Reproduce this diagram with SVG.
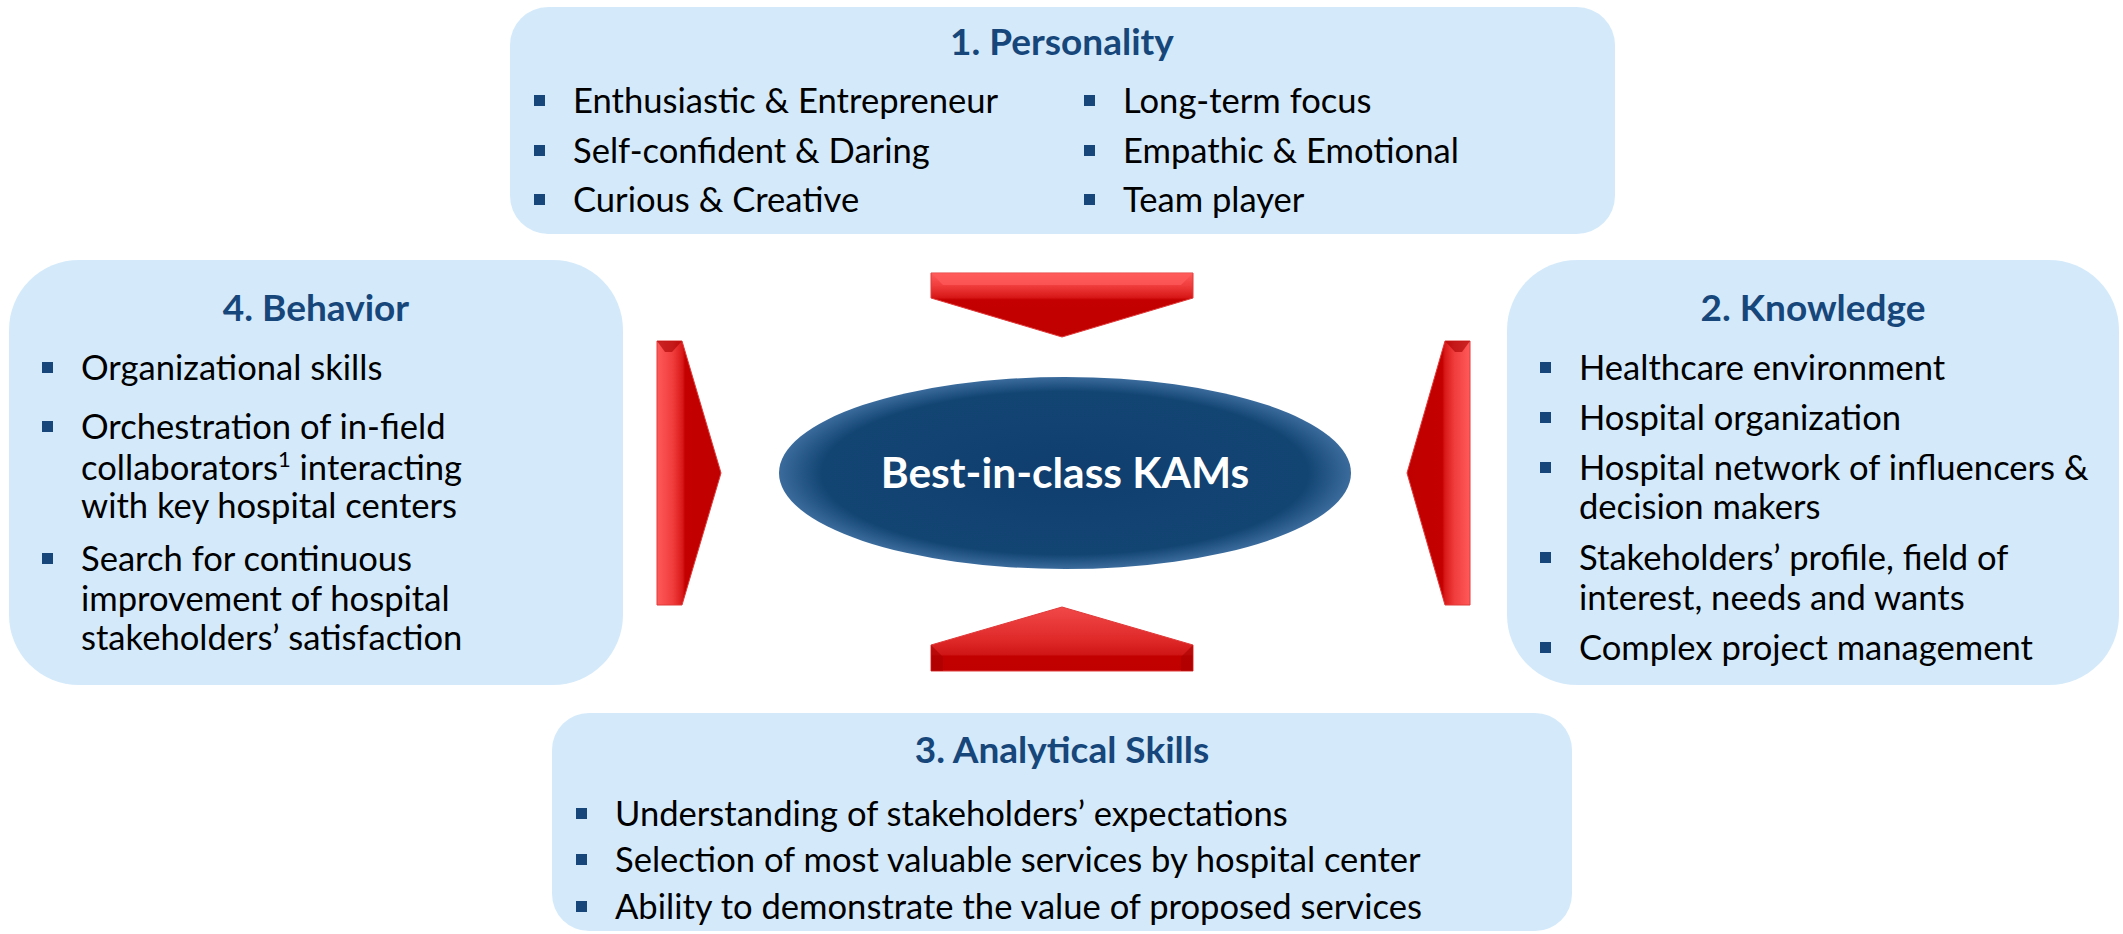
<svg xmlns="http://www.w3.org/2000/svg" width="2123" height="934" viewBox="0 0 2123 934">
<defs>
<style>
.box{fill:#D4EAFB;}
.title{font-family:Lato,"Liberation Sans",sans-serif;font-weight:bold;font-size:37px;fill:#17477A;text-anchor:middle;}
.item{font-family:Lato,"Liberation Sans",sans-serif;font-size:34.6px;fill:#000;}
.bul{fill:#17477A;}
.center{font-family:Lato,"Liberation Sans",sans-serif;font-weight:bold;font-size:42.5px;fill:#fff;text-anchor:middle;}
</style>
<radialGradient id="ellG" cx="0.5" cy="0.5" r="0.5">
<stop offset="0" stop-color="#0F3E6F"/>
<stop offset="0.85" stop-color="#134573"/>
<stop offset="1" stop-color="#3A6B9C"/>
</radialGradient>
<linearGradient id="gDown" x1="0" y1="273" x2="0" y2="337" gradientUnits="userSpaceOnUse">
<stop offset="0" stop-color="#FF5A5A"/>
<stop offset="0.2" stop-color="#F03C3C"/>
<stop offset="0.38" stop-color="#D81818"/>
<stop offset="0.42" stop-color="#C40000"/>
<stop offset="1" stop-color="#C00000"/>
</linearGradient>
<linearGradient id="gUp" x1="0" y1="607" x2="0" y2="671" gradientUnits="userSpaceOnUse">
<stop offset="0" stop-color="#F24848"/>
<stop offset="0.5" stop-color="#E02A2A"/>
<stop offset="0.74" stop-color="#D01616"/>
<stop offset="0.77" stop-color="#C20000"/>
<stop offset="1" stop-color="#C00000"/>
</linearGradient>
<linearGradient id="gRight" x1="657" y1="0" x2="721" y2="0" gradientUnits="userSpaceOnUse">
<stop offset="0" stop-color="#FF5A5A"/>
<stop offset="0.25" stop-color="#F03C3C"/>
<stop offset="0.4" stop-color="#D81818"/>
<stop offset="0.44" stop-color="#C40000"/>
<stop offset="1" stop-color="#C00000"/>
</linearGradient>
<linearGradient id="gLeft" x1="1470" y1="0" x2="1407" y2="0" gradientUnits="userSpaceOnUse">
<stop offset="0" stop-color="#FF5A5A"/>
<stop offset="0.25" stop-color="#F03C3C"/>
<stop offset="0.4" stop-color="#D81818"/>
<stop offset="0.44" stop-color="#C40000"/>
<stop offset="1" stop-color="#C00000"/>
</linearGradient>
</defs>
<rect width="2123" height="934" fill="#FFFFFF"/>

<g id="personality">
<rect class="box" x="510" y="7" width="1105" height="227" rx="38" ry="38"/>
<text class="title" x="1062" y="55">1. Personality</text>
<rect class="bul" x="534" y="95" width="11" height="11"/>
<text class="item" x="573" y="113">Enthusiastic &amp; Entrepreneur</text>
<rect class="bul" x="534" y="145" width="11" height="11"/>
<text class="item" x="573" y="163">Self-confident &amp; Daring</text>
<rect class="bul" x="534" y="194" width="11" height="11"/>
<text class="item" x="573" y="212">Curious &amp; Creative</text>
<rect class="bul" x="1084" y="95" width="11" height="11"/>
<text class="item" x="1123" y="113">Long-term focus</text>
<rect class="bul" x="1084" y="145" width="11" height="11"/>
<text class="item" x="1123" y="163">Empathic &amp; Emotional</text>
<rect class="bul" x="1084" y="194" width="11" height="11"/>
<text class="item" x="1123" y="212">Team player</text>
</g>

<g id="behavior">
<rect class="box" x="9" y="260" width="614" height="425" rx="70" ry="70"/>
<text class="title" x="316" y="321">4. Behavior</text>
<rect class="bul" x="42" y="362" width="11" height="11"/>
<text class="item" x="81" y="380">Organizational skills</text>
<rect class="bul" x="42" y="421" width="11" height="11"/>
<text class="item" x="81" y="439">Orchestration of in-field</text>
<text class="item" x="81" y="480">collaborators<tspan font-size="22" dy="-13">1</tspan><tspan dy="13"> interacting</tspan></text>
<text class="item" x="81" y="518">with key hospital centers</text>
<rect class="bul" x="42" y="553" width="11" height="11"/>
<text class="item" x="81" y="571">Search for continuous</text>
<text class="item" x="81" y="611">improvement of hospital</text>
<text class="item" x="81" y="650">stakeholders’ satisfaction</text>
</g>

<g id="knowledge">
<rect class="box" x="1507" y="260" width="612" height="425" rx="70" ry="70"/>
<text class="title" x="1813" y="321">2. Knowledge</text>
<rect class="bul" x="1540" y="362" width="11" height="11"/>
<text class="item" x="1579" y="380">Healthcare environment</text>
<rect class="bul" x="1540" y="412" width="11" height="11"/>
<text class="item" x="1579" y="430">Hospital organization</text>
<rect class="bul" x="1540" y="462" width="11" height="11"/>
<text class="item" x="1579" y="480">Hospital network of influencers &amp;</text>
<text class="item" x="1579" y="519">decision makers</text>
<rect class="bul" x="1540" y="552" width="11" height="11"/>
<text class="item" x="1579" y="570">Stakeholders’ profile, field of</text>
<text class="item" x="1579" y="610">interest, needs and wants</text>
<rect class="bul" x="1540" y="642" width="11" height="11"/>
<text class="item" x="1579" y="660">Complex project management</text>
</g>

<g id="analytical">
<rect class="box" x="552" y="713" width="1020" height="218" rx="37" ry="37"/>
<text class="title" x="1062" y="763">3. Analytical Skills</text>
<rect class="bul" x="576" y="808" width="11" height="11"/>
<text class="item" x="615" y="826">Understanding of stakeholders’ expectations</text>
<rect class="bul" x="576" y="854" width="11" height="11"/>
<text class="item" x="615" y="872">Selection of most valuable services by hospital center</text>
<rect class="bul" x="576" y="901" width="11" height="11"/>
<text class="item" x="615" y="919">Ability to demonstrate the value of proposed services</text>
</g>

<g id="center">
<ellipse cx="1065" cy="473" rx="286" ry="96" fill="url(#ellG)"/>
<text class="center" x="1065" y="488">Best-in-class KAMs</text>
</g>

<g id="connectors">
<polygon points="931,273 1193,273 1193,298 1062,337 931,298" fill="url(#gDown)" stroke="#E03A3A" stroke-width="1"/>
<polygon points="931,273 1193,273 1181,285 943,285" fill="#FF5C5C" opacity="0.7"/>
<polygon points="1062,607 1193,645 1193,671 931,671 931,645" fill="url(#gUp)" stroke="#E03A3A" stroke-width="1"/>
<polygon points="931,645 943,657 943,671 931,671" fill="#A80000" opacity="0.6"/>
<polygon points="1193,645 1181,657 1181,671 1193,671" fill="#A80000" opacity="0.6"/>
<polygon points="657,341 682,341 721,473 682,605 657,605" fill="url(#gRight)" stroke="#E03A3A" stroke-width="1"/>
<polygon points="657,341 682,341 672,352 665,352" fill="#A80000" opacity="0.6"/>
<polygon points="1470,341 1445,341 1407,473 1445,605 1470,605" fill="url(#gLeft)" stroke="#E03A3A" stroke-width="1"/>
<polygon points="1470,341 1445,341 1455,352 1462,352" fill="#A80000" opacity="0.6"/>
</g>
</svg>
